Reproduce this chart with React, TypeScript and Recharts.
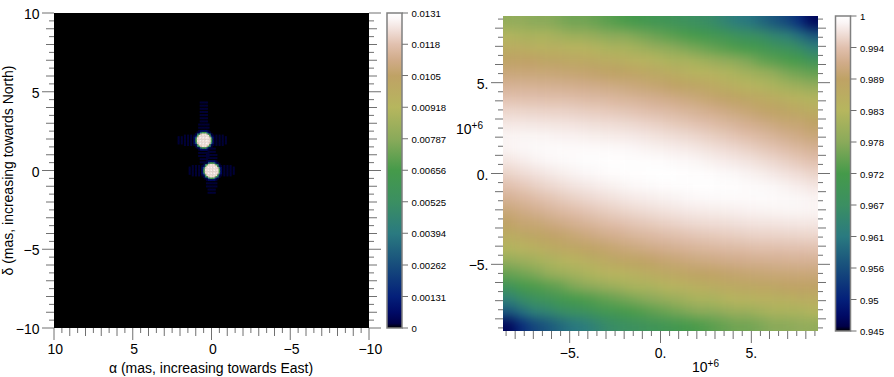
import React from 'react';
import { ScatterChart, Scatter, XAxis, YAxis, ReferenceArea, Label } from 'recharts';

const FONT = '"Liberation Sans", Arial, sans-serif';
const TICK_COLOR = '#707070';

// colormap of both colour bars: fraction of the range -> colour
const STOP_OFFSETS = [0, 0.015, 0.05, 0.1, 0.2, 0.3, 0.4, 0.5, 0.6, 0.7, 0.8, 0.85, 0.9, 0.95, 0.98, 1];
const STOP_COLORS = ['#000000', '#000048', '#000a66', '#04207a', '#174d7c', '#2a7a80', '#3b8f62', '#459a4a', '#8aaa5a', '#b6b65e', '#bfa265', '#d0ab88', '#e1c0ae', '#f2e2dd', '#fbf6f6', '#ffffff'];

const alphaTicks = [10, 9.5, 9, 8.5, 8, 7.5, 7, 6.5, 6, 5.5, 5, 4.5, 4, 3.5, 3, 2.5, 2, 1.5, 1, 0.5, 0, -0.5, -1, -1.5, -2, -2.5, -3, -3.5, -4, -4.5, -5, -5.5, -6, -6.5, -7, -7.5, -8, -8.5, -9, -9.5, -10];
const baselineTicks = [-8.5, -8, -7.5, -7, -6.5, -6, -5.5, -5, -4.5, -4, -3.5, -3, -2.5, -2, -1.5, -1, -0.5, 0, 0.5, 1, 1.5, 2, 2.5, 3, 3.5, 4, 4.5, 5, 5.5, 6, 6.5, 7, 7.5, 8, 8.5];

const imageLabels: Record<string, string> = { '10': '10', '5': '5', '0': '0', '-5': '\u22125', '-10': '\u221210' };
const visLabels: Record<string, string> = { '5': '5.', '0': '0.', '-5': '\u22125.' };

const fluxBarTicks = [0, 0.00131, 0.00262, 0.00394, 0.00525, 0.00656, 0.00787, 0.00918, 0.0105, 0.0118, 0.0131];
const fluxBarLabels = ['0', '0.00131', '0.00262', '0.00394', '0.00525', '0.00656', '0.00787', '0.00918', '0.0105', '0.0118', '0.0131'];
const visBarTicks = [0.945, 0.9505, 0.956, 0.9615, 0.967, 0.9725, 0.978, 0.9835, 0.989, 0.9945, 1];
const visBarLabels = ['0.945', '0.95', '0.956', '0.961', '0.967', '0.972', '0.978', '0.983', '0.989', '0.994', '1'];

// the two point sources, mas
const sourceAlpha = [0, 0.5];
const sourceDelta = [0, 1.93];

// flux levels of the image, index used by the psf quadrant below
const fluxLevels = [0, 0.00015, 0.0006, 0.0036, 0.0065, 0.0091, 0.0118, 0.0124, 0.0128];
// one quadrant of the spot, row = delta offset, column = alpha offset, 0.1 mas steps
const psfQuadrant = [
  [8, 7, 8, 7, 7, 4, 2, 0, 1, 0, 1, 0, 1, 0, 1],
  [7, 7, 7, 7, 7, 4, 2, 0, 1, 0, 1, 0, 1, 0, 1],
  [8, 7, 8, 7, 6, 3, 2, 0, 1, 0, 1, 0, 1, 0, 1],
  [7, 7, 7, 7, 4, 2, 1, 0, 1, 0, 1, 0, 1, 0, 0],
  [7, 7, 6, 4, 3, 1, 0, 0, 0, 0, 0, 0, 0, 0, 0],
  [4, 4, 3, 2, 1, 0, 0, 0, 0, 0, 0, 0, 0, 0, 0],
  [2, 2, 2, 1, 0, 0, 0, 0, 0, 0, 0, 0, 0, 0, 0],
  [0, 0, 0, 0, 0, 0, 0, 0, 0, 0, 0, 0, 0, 0, 0],
  [1, 1, 1, 1, 0, 0, 0, 0, 0, 0, 0, 0, 0, 0, 0],
  [0, 0, 0, 0, 0, 0, 0, 0, 0, 0, 0, 0, 0, 0, 0],
  [1, 1, 1, 1, 0, 0, 0, 0, 0, 0, 0, 0, 0, 0, 0],
  [0, 0, 0, 0, 0, 0, 0, 0, 0, 0, 0, 0, 0, 0, 0],
  [1, 1, 1, 0, 0, 0, 0, 0, 0, 0, 0, 0, 0, 0, 0],
  [0, 0, 0, 0, 0, 0, 0, 0, 0, 0, 0, 0, 0, 0, 0],
  [1, 1, 1, 0, 0, 0, 0, 0, 0, 0, 0, 0, 0, 0, 0],
];
// fainter arm above the upper source, delta offsets in mas
const northArmDelta = [1.6, 1.8, 2.0, 2.2, 2.4];
const northArmAlpha = [-0.2, -0.1, 0, 0.1, 0.2];
// same for the left side of the upper source, alpha offsets in mas
const eastArmAlpha = [1.6];
const eastArmDelta = [-0.2, -0.1, 0, 0.1, 0.2];

// squared visibility, thousandths, one list per column left to right, top row first
const visColumns = [
  [979, 983, 986, 989, 990.6, 992.6, 994.5, 996.2, 997.6, 998.7, 998.7, 997.6, 996.1, 994.5, 992.6, 990.6, 989, 986, 983, 979, 975, 969, 963, 957, 947],
  [979, 982, 986, 989, 990.6, 992.6, 994.4, 996.1, 997.6, 998.8, 999, 998.1, 996.7, 995.1, 993.3, 991.4, 990, 987, 984, 980, 976, 972, 966, 960, 952],
  [978, 982, 985, 989, 990.5, 992.5, 994.4, 996, 997.5, 998.8, 999.3, 998.6, 997.2, 995.7, 994, 992.1, 990.1, 988, 985, 981, 977, 973, 968, 963, 955],
  [978, 982, 985, 988, 990.4, 992.4, 994.2, 995.9, 997.4, 998.7, 999.4, 999, 997.7, 996.3, 994.7, 992.8, 990.8, 988.7, 986, 982, 979, 974, 969, 964, 957],
  [977, 981, 985, 987.8, 990.2, 992.2, 994.2, 995.9, 997.3, 998.6, 999.5, 999.3, 998.2, 996.8, 995.2, 993.5, 991.5, 989.4, 987, 983, 980, 975, 971, 966, 959],
  [976, 980, 984, 987.4, 990, 992.1, 994, 995.7, 997.2, 998.5, 999.4, 999.5, 998.6, 997.3, 995.8, 994.1, 992.2, 990.1, 987.6, 984, 981, 977, 972, 967, 961],
  [976, 980, 984, 987, 989.7, 991.8, 993.7, 995.5, 997, 998.3, 999.4, 999.7, 999, 997.7, 996.3, 994.7, 992.8, 990.7, 988.4, 985, 982, 978, 973, 968, 962],
  [975, 979, 983, 986.6, 989.4, 991.6, 993.6, 995.4, 996.8, 998.2, 999.4, 999.8, 999.3, 998.1, 996.7, 995.2, 993.4, 991.4, 989.2, 986, 983, 979, 974, 970, 964],
  [974, 978, 982, 986, 989, 991.3, 993.3, 995.1, 996.7, 998, 999.3, 999.9, 999.6, 998.4, 997.1, 995.6, 994, 992, 989.8, 987, 984, 980, 975, 971, 966],
  [973, 978, 982, 985.4, 988.6, 991, 993, 994.9, 996.5, 997.9, 999.1, 999.9, 999.7, 998.8, 997.5, 996.1, 994.4, 992.5, 990.4, 987.8, 984, 981, 976, 972, 967],
  [972, 977, 981, 984.7, 988.1, 990.6, 992.7, 994.6, 996.3, 997.7, 998.9, 999.8, 999.9, 999.1, 997.9, 996.5, 994.9, 993, 991, 988.5, 985, 982, 977, 973, 968],
  [971, 976, 980, 984, 987.4, 990.1, 992.3, 994.2, 995.9, 997.4, 998.6, 999.7, 1000, 999.3, 998.1, 996.8, 995.2, 993.5, 991.4, 989, 986, 982, 978, 974, 969],
  [970, 975, 979, 983, 986.8, 989.7, 991.9, 993.9, 995.6, 997.1, 998.4, 999.6, 1000, 999.6, 998.4, 997.1, 995.6, 993.9, 991.9, 989.7, 986.8, 983, 979, 975, 970],
  [969, 974, 978, 982, 986, 989, 991.4, 993.5, 995.2, 996.8, 998.1, 999.3, 1000, 999.7, 998.6, 997.4, 995.9, 994.2, 992.3, 990.1, 987.4, 984, 980, 976, 971],
  [968, 973, 977, 982, 985, 988.5, 991, 993, 994.9, 996.5, 997.9, 999.1, 999.9, 999.8, 998.9, 997.7, 996.3, 994.6, 992.7, 990.6, 988.1, 984.7, 981, 977, 972],
  [967, 972, 976, 981, 984, 987.8, 990.4, 992.5, 994.4, 996.1, 997.5, 998.8, 999.7, 999.9, 999.1, 997.9, 996.5, 994.9, 993, 991, 988.6, 985.4, 982, 978, 973],
  [966, 971, 975, 980, 984, 987, 989.8, 992, 994, 995.6, 997.1, 998.4, 999.6, 999.9, 999.3, 998, 996.7, 995.1, 993.3, 991.3, 989, 986, 982, 978, 974],
  [964, 970, 974, 979, 983, 986, 989.2, 991.4, 993.4, 995.2, 996.7, 998.1, 999.3, 999.8, 999.4, 998.2, 996.8, 995.4, 993.6, 991.6, 989.4, 986.6, 983, 979, 975],
  [962, 968, 973, 978, 982, 985, 988.4, 990.7, 992.8, 994.7, 996.3, 997.7, 999, 999.7, 999.4, 998.3, 997, 995.5, 993.7, 991.8, 989.7, 987, 984, 980, 976],
  [961, 967, 972, 977, 981, 984, 987.6, 990.1, 992.2, 994.1, 995.8, 997.3, 998.6, 999.5, 999.4, 998.5, 997.2, 995.7, 994, 992.1, 990, 987.4, 984, 980, 976],
  [959, 966, 971, 975, 980, 983, 987, 989.4, 991.5, 993.5, 995.2, 996.8, 998.2, 999.3, 999.5, 998.6, 997.3, 995.9, 994.2, 992.2, 990.2, 987.8, 985, 981, 977],
  [957, 964, 969, 974, 979, 982, 986, 988.7, 990.8, 992.8, 994.7, 996.3, 997.7, 999, 999.4, 998.7, 997.4, 995.9, 994.2, 992.4, 990.4, 988, 985, 982, 978],
  [955, 963, 968, 973, 977, 981, 985, 988, 990.1, 992.1, 994, 995.7, 997.2, 998.6, 999.3, 998.8, 997.5, 996, 994.4, 992.5, 990.5, 989, 985, 982, 978],
  [952, 960, 966, 972, 976, 980, 984, 987, 990, 991.4, 993.3, 995.1, 996.7, 998.1, 999, 998.8, 997.6, 996.1, 994.4, 992.6, 990.6, 989, 986, 982, 979],
  [947, 957, 963, 969, 975, 979, 983, 986, 989, 990.6, 992.6, 994.5, 996.1, 997.6, 998.7, 998.7, 997.6, 996.2, 994.5, 992.6, 990.6, 989, 986, 983, 979],
];

const VIS_EXTENT = 8.67;
const VIS_MIN = 0.945;
const FLUX_MAX = 0.0131;

const hexToRgb = (hex: string) => [1, 3, 5].map(i => parseInt(hex.slice(i, i + 2), 16));

const colorOf = (fraction: number) => {
  const f = Math.min(1, Math.max(0, fraction));
  let i = 0;
  while (i < STOP_OFFSETS.length - 2 && f > STOP_OFFSETS[i + 1]) i++;
  const t = (f - STOP_OFFSETS[i]) / (STOP_OFFSETS[i + 1] - STOP_OFFSETS[i]);
  const a = hexToRgb(STOP_COLORS[i]);
  const b = hexToRgb(STOP_COLORS[i + 1]);
  return `rgb(${a.map((c, k) => Math.round(c + (b[k] - c) * t)).join(',')})`;
};

const buildImageCells = () => {
  const cells: { x: number; y: number; fill: string }[] = [];
  const push = (alpha: number, delta: number, flux: number) =>
    cells.push({ x: alpha, y: delta, fill: colorOf(flux / FLUX_MAX) });
  sourceAlpha.forEach((a0, s) => {
    psfQuadrant.forEach((row, m) => {
      row.forEach((level, c) => {
        if (!level) return;
        [1, -1].forEach(sy => {
          [1, -1].forEach(sx => {
            if ((m === 0 && sy < 0) || (c === 0 && sx < 0)) return;
            push(a0 + (sx * c) / 10, sourceDelta[s] + (sy * m) / 10, fluxLevels[level]);
          });
        });
      });
    });
  });
  northArmDelta.forEach(d => northArmAlpha.forEach(a => push(sourceAlpha[1] + a, sourceDelta[1] + d, fluxLevels[1])));
  eastArmAlpha.forEach(a => eastArmDelta.forEach(d => push(sourceAlpha[1] + a, sourceDelta[1] + d, fluxLevels[1])));
  return cells;
};

const buildVisCells = () => {
  const step = (2 * VIS_EXTENT) / visColumns.length;
  const cells: { x: number; y: number; fill: string }[] = [];
  visColumns.forEach((col, i) => {
    col.forEach((v, j) => {
      cells.push({
        x: -VIS_EXTENT + (i + 0.5) * step,
        y: VIS_EXTENT - (j + 0.5) * step,
        fill: colorOf((v / 1000 - VIS_MIN) / (1 - VIS_MIN)),
      });
    });
  });
  return cells;
};

const imageCells = buildImageCells();
const visCells = buildVisCells();

const tickLength = (v: number) => {
  const n = Math.abs(v);
  if (n % 5 === 0) return 12;
  if (n % 1 === 0) return 8;
  return 5;
};

const AxisTick = ({ x, y, payload, side, labels, labelGap, labelShift = 0 }: any) => {
  const len = tickLength(payload.value);
  const label = labels ? labels[String(payload.value)] : undefined;
  if (side === 'left' || side === 'right') {
    const dir = side === 'left' ? -1 : 1;
    return (
      <g>
        <line x1={x} x2={x + dir * len} y1={y} y2={y} stroke={TICK_COLOR} />
        {label && <text x={x - labelGap} y={y + 6} textAnchor="end" fontSize={14} fill="#000" fontFamily={FONT}>{label}</text>}
      </g>
    );
  }
  const dir = side === 'top' ? -1 : 1;
  return (
    <g>
      <line x1={x} x2={x} y1={y} y2={y + dir * len} stroke={TICK_COLOR} />
      {label && <text x={x + labelShift} y={y + labelGap} textAnchor="middle" fontSize={14} fill="#000" fontFamily={FONT}>{label}</text>}
    </g>
  );
};

const BarTick = ({ x, y, index, labels, labelX }: any) => (
  <g>
    <line x1={x} x2={x + 6} y1={y} y2={y} stroke={TICK_COLOR} />
    <text x={x + labelX} y={y + 4} fontSize={9.6} fill="#000" fontFamily={FONT}>{labels[index]}</text>
  </g>
);

const CellRect = ({ cx, cy, payload, cellPx }: any) => (
  <rect x={cx - cellPx / 2} y={cy - cellPx / 2} width={cellPx + 0.4} height={cellPx + 0.4} fill={payload.fill} />
);

const axisProps = {
  type: 'number' as const,
  tickSize: 0,
  tickMargin: 0,
  tickLine: false,
  axisLine: false,
  interval: 0 as const,
  allowDataOverflow: true,
};

const PowerLabel = ({ x, y }: { x: number; y: number }) => (
  <text x={x} y={y} fontSize={14} fill="#000" fontFamily={FONT}>
    10<tspan fontSize={10} dy={-5}>+6</tspan>
  </text>
);

const ColorBar = ({ left, width, top, bottom, plotLeft, domain, ticks, labels, labelX }: any) => {
  const ends = [
    { x: 0.5, y: domain[0] },
    { x: 0.5, y: domain[1] },
  ];
  return (
    <div style={{ position: 'absolute', left, top: 0 }}>
      <ScatterChart width={width} height={377} margin={{ top, bottom, left: plotLeft, right: 0 }}>
        <XAxis hide type="number" dataKey="x" domain={[0, 1]} allowDataOverflow />
        <YAxis
          {...axisProps}
          dataKey="y"
          orientation="right"
          width={width - plotLeft - 15}
          domain={domain}
          ticks={ticks}
          tick={(p: any) => <BarTick {...p} labels={labels} labelX={labelX} />}
        />
        <ReferenceArea x1={0} x2={1} y1={domain[0]} y2={domain[1]} fill="url(#barRamp)" fillOpacity={1} stroke="#808080" strokeWidth={1.5} />
        <Scatter data={ends} isAnimationActive={false} shape={() => <g />} />
      </ScatterChart>
    </div>
  );
};

export default function App() {
  return (
    <div style={{ position: 'absolute', left: 0, top: 0, width: 894, height: 377, background: '#fff', overflow: 'hidden' }}>
      <style>{`.vis-panel .recharts-scatter { filter: url(#visBlur); }`}</style>
      <svg width={0} height={0} style={{ position: 'absolute' }}>
        <defs>
          <linearGradient id="barRamp" x1="0" y1="1" x2="0" y2="0">
            {STOP_OFFSETS.map((o, i) => (
              <stop key={o} offset={o} stopColor={STOP_COLORS[i]} />
            ))}
          </linearGradient>
          <filter id="visBlur" x="0" y="0" width="1" height="1" colorInterpolationFilters="sRGB">
            <feGaussianBlur stdDeviation="5.5" />
            <feComponentTransfer>
              <feFuncA type="linear" slope="6" />
            </feComponentTransfer>
          </filter>
        </defs>
      </svg>

      {/* reconstructed image */}
      <div style={{ position: 'absolute', left: 0, top: 0 }}>
        <ScatterChart width={385} height={377} margin={{ top: 0, right: 0, bottom: 0, left: 0 }}>
          <XAxis
            {...axisProps}
            xAxisId="bottom"
            dataKey="x"
            reversed
            orientation="bottom"
            height={49}
            domain={[-10, 10]}
            ticks={alphaTicks}
            tick={(p: any) => <AxisTick {...p} side="bottom" labels={imageLabels} labelGap={26} labelShift={1.3} />}
          >
            <Label content={() => <text x={211} y={373} textAnchor="middle" fontSize={14} fontFamily={FONT} fill="#000">α (mas, increasing towards East)</text>} />
          </XAxis>
          <XAxis
            {...axisProps}
            xAxisId="top"
            reversed
            orientation="top"
            height={13}
            domain={[-10, 10]}
            ticks={alphaTicks}
            tick={(p: any) => <AxisTick {...p} side="top" />}
          />
          <YAxis
            {...axisProps}
            yAxisId="left"
            dataKey="y"
            width={54}
            domain={[-10, 10]}
            ticks={alphaTicks}
            tick={(p: any) => <AxisTick {...p} side="left" labels={imageLabels} labelGap={14.5} />}
          >
            <Label content={() => <text x={13} y={170.5} transform="rotate(-90 13 170.5)" textAnchor="middle" fontSize={14} fontFamily={FONT} fill="#000">δ (mas, increasing towards North)</text>} />
          </YAxis>
          <YAxis
            {...axisProps}
            yAxisId="right"
            orientation="right"
            width={16}
            domain={[-10, 10]}
            ticks={alphaTicks}
            tick={(p: any) => <AxisTick {...p} side="right" />}
          />
          <ReferenceArea xAxisId="bottom" yAxisId="left" x1={-10} x2={10} y1={-10} y2={10} fill="#000" fillOpacity={1} />
          <Scatter
            xAxisId="bottom"
            yAxisId="left"
            data={imageCells}
            isAnimationActive={false}
            shape={(p: any) => <CellRect {...p} cellPx={1.575} />}
          />
        </ScatterChart>
      </div>
      <ColorBar left={380} width={75} top={13} bottom={49} plotLeft={7} domain={[0, FLUX_MAX]} ticks={fluxBarTicks} labels={fluxBarLabels} labelX={9.5} />

      {/* visibility map */}
      <div className="vis-panel" style={{ position: 'absolute', left: 440, top: 0 }}>
        <ScatterChart width={395} height={377} margin={{ top: 0, right: 0, bottom: 0, left: 0 }}>
          <XAxis
            {...axisProps}
            xAxisId="bottom"
            dataKey="x"
            orientation="bottom"
            height={46}
            domain={[-VIS_EXTENT, VIS_EXTENT]}
            ticks={baselineTicks}
            tick={(p: any) => <AxisTick {...p} side="bottom" labels={visLabels} labelGap={27} />}
          >
            <Label content={() => <PowerLabel x={252} y={372} />} />
          </XAxis>
          <XAxis
            {...axisProps}
            xAxisId="top"
            orientation="top"
            height={16}
            domain={[-VIS_EXTENT, VIS_EXTENT]}
            ticks={baselineTicks}
            tick={(p: any) => <AxisTick {...p} side="top" />}
          />
          <YAxis
            {...axisProps}
            yAxisId="left"
            dataKey="y"
            width={63}
            domain={[-VIS_EXTENT, VIS_EXTENT]}
            ticks={baselineTicks}
            tick={(p: any) => <AxisTick {...p} side="left" labels={visLabels} labelGap={14.5} />}
          >
            <Label content={() => <PowerLabel x={16} y={134} />} />
          </YAxis>
          <YAxis
            {...axisProps}
            yAxisId="right"
            orientation="right"
            width={17}
            domain={[-VIS_EXTENT, VIS_EXTENT]}
            ticks={baselineTicks}
            tick={(p: any) => <AxisTick {...p} side="right" />}
          />
          <Scatter
            xAxisId="bottom"
            yAxisId="left"
            data={visCells}
            isAnimationActive={false}
            shape={(p: any) => <CellRect {...p} cellPx={12.6} />}
          />
        </ScatterChart>
      </div>
      <ColorBar left={828} width={66} top={16} bottom={46} plotLeft={7.5} domain={[VIS_MIN, 1]} ticks={visBarTicks} labels={visBarLabels} labelX={9.5} />
    </div>
  );
}
